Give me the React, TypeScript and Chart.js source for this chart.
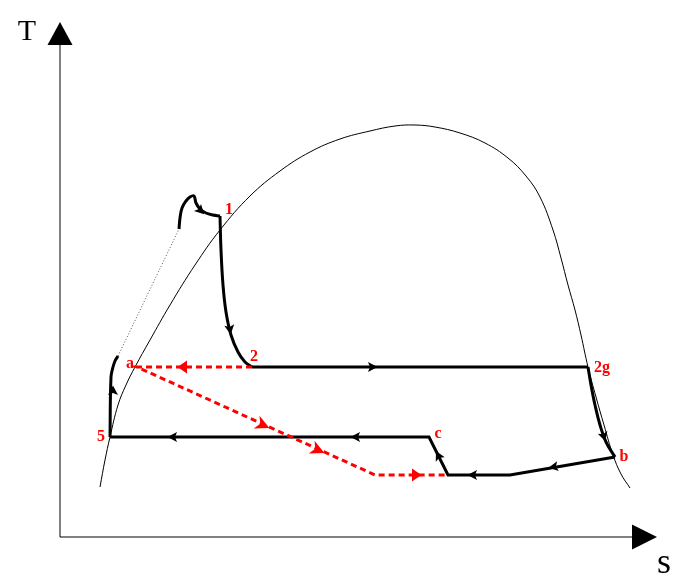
import React, { useEffect, useRef } from "react";
import { Chart, registerables } from "chart.js";
Chart.register(...registerables);

// Coordinates: s (entropy, horizontal), T (temperature, vertical), schematic units
const saturationDome = [
  [40, 50], [45, 77], [50, 100], [58, 132], [66, 152], [75, 170], [90, 197], [110, 232],
  [135, 272], [160, 307], [190, 341], [220, 366], [250, 385], [280, 398], [310, 406],
  [335, 411], [355, 412], [375, 410], [400, 404], [425, 394], [448, 379], [466, 361],
  [480, 340], [493, 307], [501, 279], [508, 252], [515, 227], [521, 202], [528, 170],
  [536, 140], [544, 112], [553, 82], [561, 63], [570, 49],
];
const superheatArc = [
  [119, 308], [120, 319], [122, 329], [126, 336], [130, 340], [134, 341],
  [136, 334], [140, 328], [146, 324], [153, 322], [160, 321],
];
const expansion12 = [
  [160, 321], [161, 287], [163, 252], [166, 225], [171, 202], [178, 185], [185, 175], [192, 170],
];
const line2to2g = [[192, 170], [528, 170]];
const line2gToB = [[528, 170], [531, 152], [535, 132], [540, 112], [546, 95], [555, 80]];
const lowerLoop = [[555, 80], [450, 62], [388, 62], [369, 100], [50, 100]];
const pump5 = [[50, 100], [51, 160], [53, 170], [55, 176], [58, 181]];
const dottedLink = [[58, 181], [119, 308]];
const redPath = [[192, 170], [77, 170], [315, 62], [388, 62]];
const yAxisLine = [[0, 0], [0, 492]];
const xAxisLine = [[0, 0], [572, 0]];

// arrowheads: [s, T, ds, dT]
const blackArrows = [
  [141, 326, 1, -1],
  [170, 207, 0.15, -1],
  [313, 170, 1, 0],
  [544, 100, 0.3, -1],
  [493, 70, -105, -18],
  [412, 62, -1, 0],
  [378, 82, -19, 38],
  [295, 100, -1, 0],
  [112, 100, -1, 0],
  [53, 147, 0, 1],
];
const redArrows = [
  [122, 170, -1, 0],
  [203, 112, 238, -108],
  [258, 87, 238, -108],
  [357, 62, 1, 0],
];

const pointLabels = ["1", "2", "2g", "b", "c", "5", "a"];
const labelPos = [
  [169, 327], [194, 180], [542, 169], [564, 80], [378, 103], [41, 100], [70, 173],
];

const pts = (a: number[][]) => a.map(([x, y]) => ({ x, y }));

const decorPlugin = {
  id: "decor",
  afterDatasetsDraw(chart: any) {
    const { ctx } = chart;
    const xs = chart.scales.x;
    const ys = chart.scales.y;
    const px = (v: number) => xs.getPixelForValue(v);
    const py = (v: number) => ys.getPixelForValue(v);

    // axis arrowheads
    ctx.save();
    ctx.fillStyle = "#000";
    ctx.beginPath();
    ctx.moveTo(px(0), py(515));
    ctx.lineTo(px(-12.5), py(492));
    ctx.lineTo(px(12.5), py(492));
    ctx.closePath();
    ctx.fill();
    ctx.beginPath();
    ctx.moveTo(px(597), py(0));
    ctx.lineTo(px(572), py(12.5));
    ctx.lineTo(px(572), py(-12.5));
    ctx.closePath();
    ctx.fill();

    ctx.textAlign = "center";
    ctx.textBaseline = "middle";
    ctx.font = "30px 'Liberation Serif', 'Times New Roman', serif";
    ctx.fillText("T", px(-33), py(505));
    ctx.font = "36px 'Liberation Serif', 'Times New Roman', serif";
    ctx.fillText("s", px(604), py(-27));
    ctx.restore();

    const drawArrow = (a: number[], color: string, kind: number) => {
      const cx = px(a[0]);
      const cy = py(a[1]);
      const dx = px(a[0] + a[2]) - cx;
      const dy = py(a[1] + a[3]) - cy;
      const ang = Math.atan2(dy, dx);
      ctx.save();
      ctx.translate(cx, cy);
      ctx.rotate(ang);
      ctx.fillStyle = color;
      ctx.beginPath();
      if (kind === 0) {
        ctx.moveTo(4.5, 0);
        ctx.lineTo(-5, -5);
        ctx.lineTo(-3, 0);
        ctx.lineTo(-5, 5);
      } else if (kind === 1) {
        ctx.moveTo(7, 0);
        ctx.lineTo(-7, -7);
        ctx.lineTo(-3, 0);
        ctx.lineTo(-7, 7);
      } else {
        ctx.moveTo(4.5, 0);
        ctx.lineTo(-5, -6.5);
        ctx.lineTo(-5, 6.5);
      }
      ctx.closePath();
      ctx.fill();
      ctx.restore();
    };
    blackArrows.forEach((a) => drawArrow(a, "#000", 0));
    redArrows.forEach((a, i) => drawArrow(a, "#ff0000", i === 1 || i === 2 ? 1 : 2));

    ctx.save();
    ctx.fillStyle = "#ff0000";
    ctx.font = "bold 16px 'Liberation Serif', 'Times New Roman', serif";
    ctx.textAlign = "center";
    ctx.textBaseline = "middle";
    pointLabels.forEach((t, i) => {
      ctx.fillText(t, px(labelPos[i][0]), py(labelPos[i][1]));
    });
    ctx.restore();
  },
};

export default function App() {
  const ref = useRef<HTMLCanvasElement | null>(null);
  useEffect(() => {
    if (!ref.current) return;
    const black = (data: number[][], tension: number) => ({
      data: pts(data),
      borderColor: "#000",
      borderWidth: 3,
      tension,
      order: 1,
    });
    const chart = new Chart(ref.current, {
      type: "scatter",
      data: {
        datasets: [
          { data: pts(redPath), borderColor: "#ff0000", borderWidth: 3, borderDash: [6, 4], tension: 0, order: 0 } as any,
          black(superheatArc, 0.4),
          black(expansion12, 0.4),
          black(line2to2g, 0),
          black(line2gToB, 0.4),
          black(lowerLoop, 0),
          black(pump5, 0.4),
          { data: pts(dottedLink), borderColor: "#555", borderWidth: 1, borderDash: [1, 2], order: 2 },
          { data: pts(saturationDome), borderColor: "#000", borderWidth: 1, tension: 0.4, order: 3 },
          { data: pts(yAxisLine), borderColor: "#000", borderWidth: 1, order: 3 },
          { data: pts(xAxisLine), borderColor: "#000", borderWidth: 1, order: 3 },
        ].map((d: any) => ({ showLine: true, pointRadius: 0, pointHoverRadius: 0, borderCapStyle: "butt", ...d })),
      },
      options: {
        responsive: false,
        animation: false,
        layout: { padding: 0 },
        plugins: { legend: { display: false }, tooltip: { enabled: false } },
        events: [],
        scales: {
          x: { type: "linear", min: -60, max: 629, display: false },
          y: { type: "linear", min: -45, max: 537, display: false },
        },
      },
      plugins: [decorPlugin],
    } as any);
    return () => chart.destroy();
  }, []);
  return (
    <div style={{ position: "fixed", left: 0, top: 0, width: 689, height: 582, background: "#fff" }}>
      <canvas ref={ref} width={689} height={582} style={{ display: "block" }} />
    </div>
  );
}
